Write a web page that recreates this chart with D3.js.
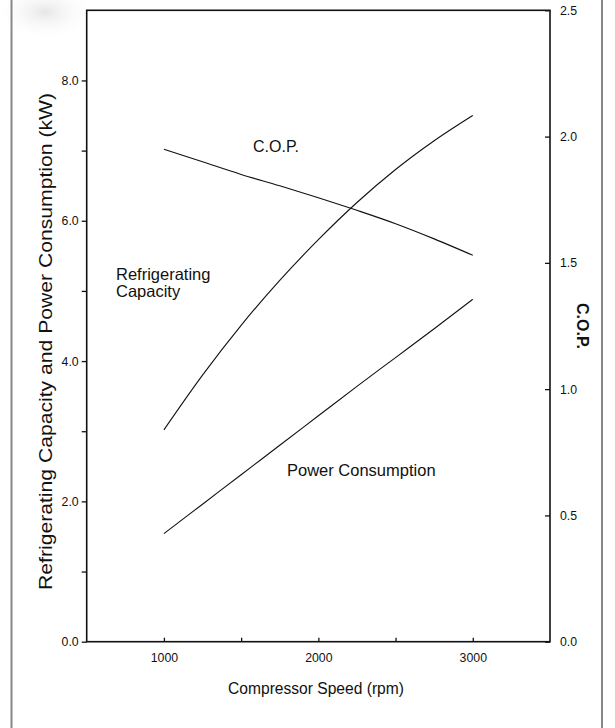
<!DOCTYPE html>
<html>
<head>
<meta charset="utf-8">
<script src="https://cdn.jsdelivr.net/npm/d3@7"></script>
<style>
  body { margin: 0; background: #fff; }
  svg text { font-family: "Liberation Sans", Arial, Helvetica, sans-serif; fill: #111; }
</style>
</head>
<body>
<div id="chart"></div>
<script>
// compressor speed (rpm)
var speeds = [1000, 1250, 1500, 1750, 2000, 2250, 2500, 2750, 3000];
// refrigerating capacity (kW)
var capacity = [3.02, 3.80, 4.51, 5.15, 5.73, 6.26, 6.73, 7.14, 7.50];
// power consumption (kW)
var power = [1.54, 1.96, 2.38, 2.80, 3.22, 3.64, 4.05, 4.46, 4.88];
// C.O.P. (right axis)
var cop = [1.95, 1.90, 1.85, 1.805, 1.758, 1.708, 1.655, 1.595, 1.53];

var leftTicks = [0, 1, 2, 3, 4, 5, 6, 7, 8];
var rightTicks = [0, 0.5, 1.0, 1.5, 2.0, 2.5];
var bottomTicks = [1000, 1500, 2000, 2500, 3000];

var width = 615, height = 728;
var svg = d3.select("#chart").append("svg")
    .attr("width", width)
    .attr("height", height);

// faint smudge in the top-left corner of the scan
var defs = svg.append("defs");
var grad = defs.append("radialGradient").attr("id", "smudge");
grad.append("stop").attr("offset", "0%").attr("stop-color", "#e6e6e6");
grad.append("stop").attr("offset", "100%").attr("stop-color", "#fff").attr("stop-opacity", 0);
svg.append("ellipse")
    .attr("cx", 45).attr("cy", 12)
    .attr("rx", 50).attr("ry", 28)
    .attr("fill", "url(#smudge)");

// page border lines
svg.append("line").attr("x1", 11.5).attr("x2", 11.5).attr("y1", 0).attr("y2", height)
    .attr("stroke", "#888").attr("stroke-width", 2);
svg.append("line").attr("x1", 602).attr("x2", 602).attr("y1", 0).attr("y2", height)
    .attr("stroke", "#888").attr("stroke-width", 2);

var plotL = 86.7, plotR = 550, plotT = 10.3, plotB = 641.7;

var x = d3.scaleLinear().domain([500, 3500]).range([plotL, plotR]);
var yL = d3.scaleLinear().domain([0, 9]).range([plotB, plotT]);
var yR = d3.scaleLinear().domain([0, 2.5]).range([plotB, plotT]);

// left axis
var gL = svg.append("g")
    .attr("transform", "translate(" + plotL + ",0)")
    .call(d3.axisLeft(yL)
      .tickValues(leftTicks)
      .tickSize(5)
      .tickPadding(3)
      .tickFormat(function(d) { return d % 2 === 0 ? d3.format(".1f")(d) : ""; }));

// right axis, ticks pointing inward
var gR = svg.append("g")
    .attr("transform", "translate(" + plotR + ",0)")
    .call(d3.axisRight(yR)
      .tickValues(rightTicks)
      .tickSize(-5)
      .tickPadding(10)
      .tickFormat(d3.format(".1f")));

// bottom axis, ticks pointing up
var gB = svg.append("g")
    .attr("transform", "translate(0," + plotB + ")")
    .call(d3.axisBottom(x)
      .tickValues(bottomTicks)
      .tickSize(-4)
      .tickPadding(12)
      .tickFormat(function(d) { return d % 1000 === 0 ? d : ""; }));

[gL, gR, gB].forEach(function(g) {
  g.select(".domain").remove();
  g.selectAll(".tick line").attr("stroke", "#111").attr("stroke-width", 1.3);
  g.selectAll(".tick text")
    .attr("font-size", 12.3)
    .attr("font-family", "Liberation Sans, Arial, sans-serif")
    .attr("fill", "#000");
});

// plot frame
svg.append("rect")
    .attr("x", plotL).attr("y", plotT)
    .attr("width", plotR - plotL).attr("height", plotB - plotT)
    .attr("fill", "none")
    .attr("stroke", "#111")
    .attr("stroke-width", 1.6);

// curves
function series(values, yScale) {
  return speeds.map(function(s, i) { return [x(s), yScale(values[i])]; });
}
var line = d3.line().curve(d3.curveMonotoneX);

[[capacity, yL], [power, yL], [cop, yR]].forEach(function(p) {
  svg.append("path")
    .attr("d", line(series(p[0], p[1])))
    .attr("fill", "none")
    .attr("stroke", "#111")
    .attr("stroke-width", 1.1);
});

// curve labels
svg.append("text").attr("x", 253).attr("y", 152)
    .attr("font-size", 16).text("C.O.P.");
svg.append("text").attr("x", 116).attr("y", 280)
    .attr("font-size", 16.5).text("Refrigerating");
svg.append("text").attr("x", 116).attr("y", 297)
    .attr("font-size", 16.5).text("Capacity");
svg.append("text").attr("x", 287).attr("y", 476)
    .attr("font-size", 16.5).text("Power Consumption");

// axis titles
svg.append("text")
    .attr("x", 316).attr("y", 694)
    .attr("text-anchor", "middle")
    .attr("font-size", 15.6)
    .text("Compressor Speed (rpm)");

svg.append("text")
    .attr("transform", "translate(52,341.5) rotate(-90)")
    .attr("text-anchor", "middle")
    .attr("font-size", 17.5)
    .attr("textLength", 497)
    .attr("lengthAdjust", "spacingAndGlyphs")
    .text("Refrigerating Capacity and Power Consumption (kW)");

svg.append("text")
    .attr("transform", "translate(577,326) rotate(90)")
    .attr("text-anchor", "middle")
    .attr("font-size", 16)
    .attr("font-weight", "bold")
    .text("C.O.P.");
</script>
</body>
</html>
